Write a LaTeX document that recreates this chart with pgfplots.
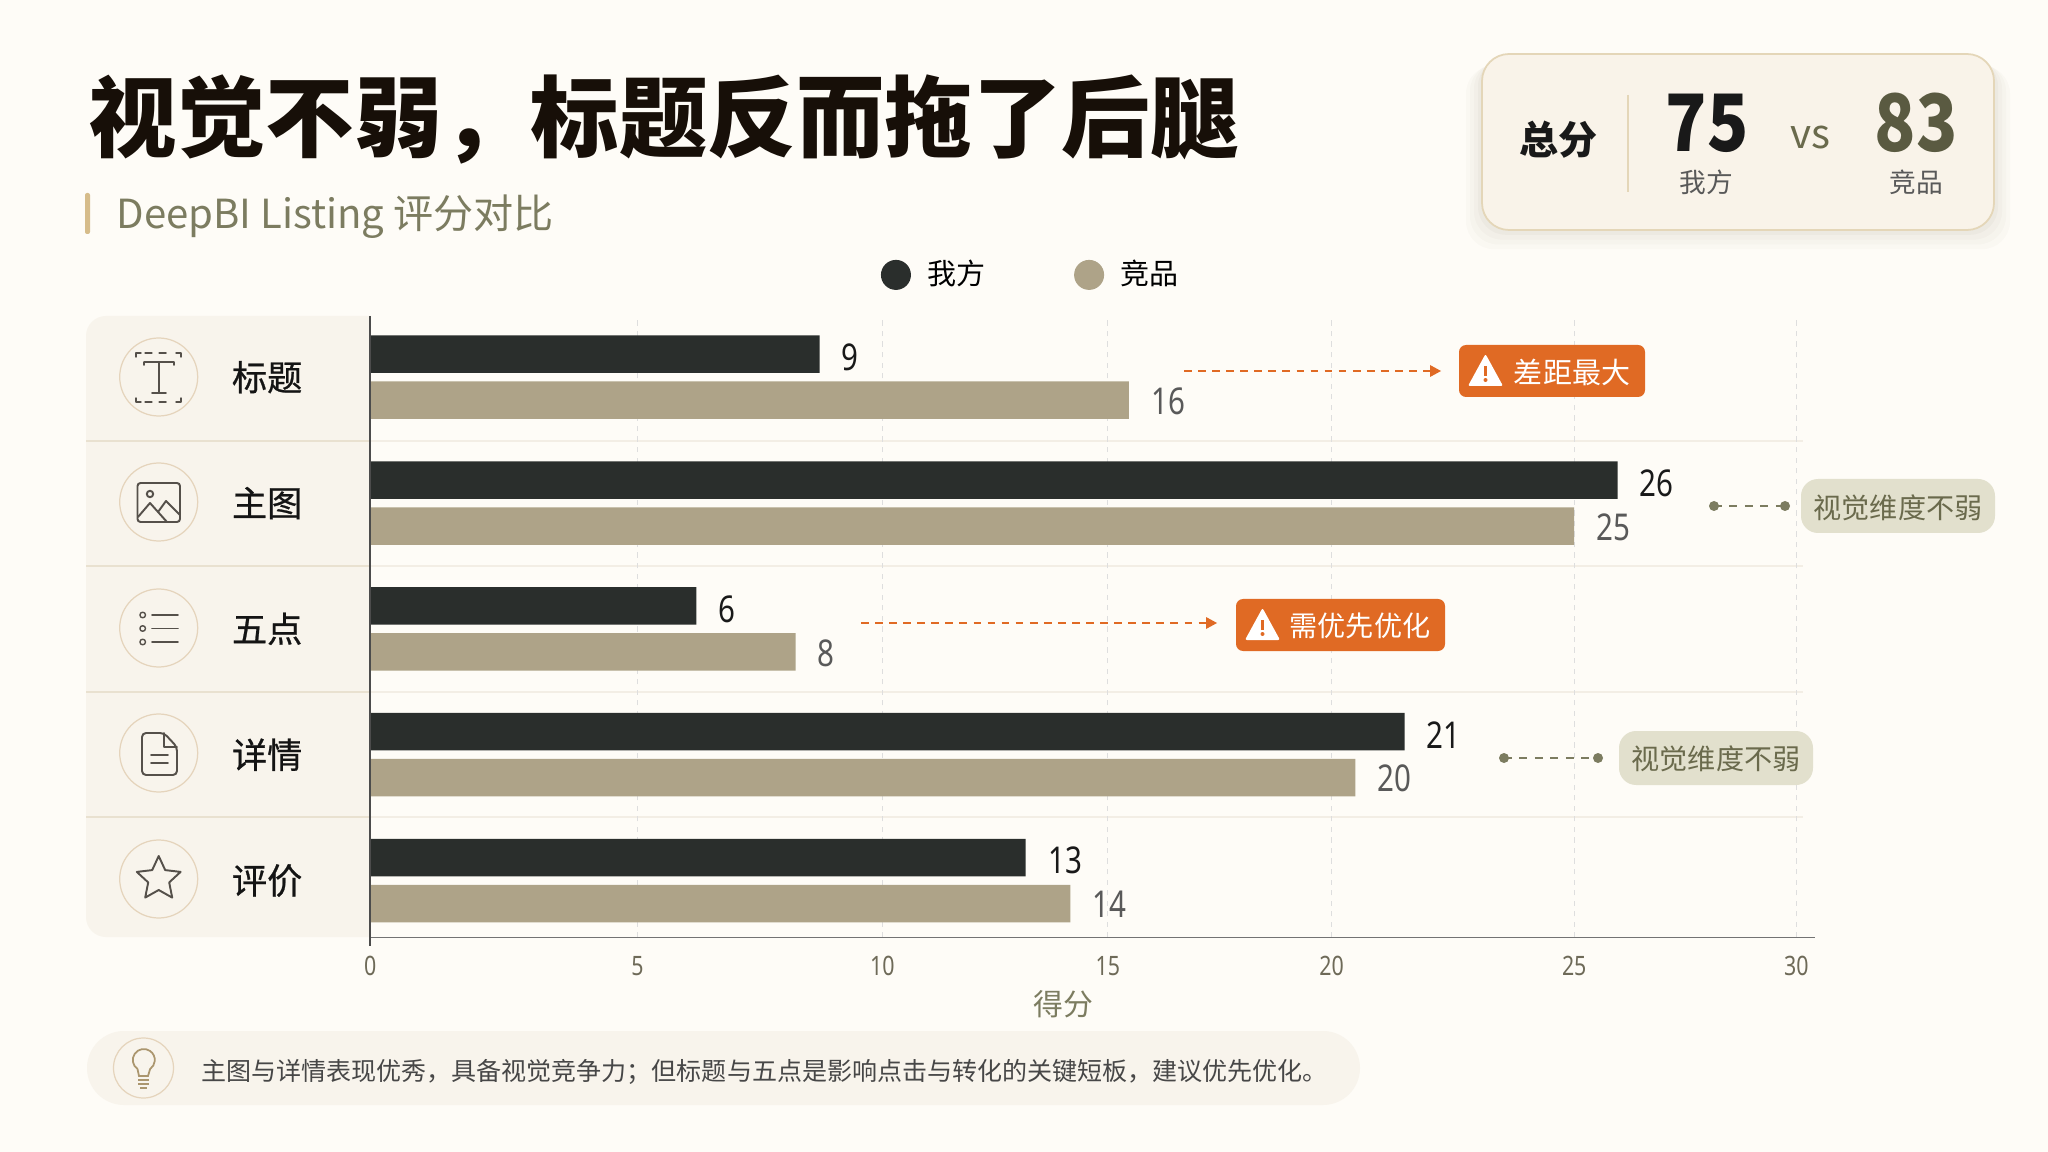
\documentclass[border=0pt]{standalone}
\usepackage{fontspec}
\usepackage{pgfplots}
\usepackage{pgfplotstable}
\pgfplotsset{compat=1.18}
\usetikzlibrary{arrows.meta}
\setmainfont{Noto Sans CJK SC}
\newfontfamily\numf[FakeStretch=0.8]{Noto Sans}
\newfontfamily\numb[FakeStretch=0.86]{Noto Sans CJK SC}
\newfontfamily\midf[FakeBold=0.7]{Noto Sans CJK SC}
\newcommand\fs[1]{\fontsize{#1pt}{#1pt}\selectfont}
\definecolor{bgc}{HTML}{FEFCF7}
\definecolor{cDark}{HTML}{2A2E2C}
\definecolor{cTan}{HTML}{AEA388}
\definecolor{panel}{HTML}{F8F4EC}
\definecolor{panelln}{HTML}{E9E1D0}
\definecolor{ring}{HTML}{E5D4BC}
\definecolor{icon}{HTML}{55504A}
\definecolor{olive}{HTML}{7C7C60}
\definecolor{oliveD}{HTML}{6A6A4C}
\definecolor{orng}{HTML}{E06A24}
\definecolor{pill}{HTML}{E2E0CD}
\definecolor{card}{HTML}{F9F3E9}
\definecolor{cardln}{HTML}{E4D6B8}
\definecolor{accent}{HTML}{D6BC8A}
\definecolor{tick}{HTML}{6E6A58}
% scores of each listing dimension (row 4 is the top row)
\pgfplotstableread{
row ours rival
4   9    16
3   26   25
2   6    8
1   21   20
0   13   14
}\scores
\begin{document}
\begin{tikzpicture}[x=0.01cm,y=-0.01cm]
\path[use as bounding box] (0,0) rectangle (2048,1152);
\fill[bgc] (0,0) rectangle (2048,1152);
% title block
\node[anchor=west,inner sep=0pt,text=black!88!brown] at (88,120) {\fs{25.15}\bfseries 视觉不弱，标题反而拖了后腿};
\fill[accent,rounded corners=0.02cm] (85,193) rectangle (90,234);
\node[anchor=west,inner sep=0pt,text=olive] at (116,217) {\fs{11.4}DeepBI Listing 评分对比};
% score card
\foreach \d/\o in {16/0.02,12/0.02,8/0.025,4/0.03}{
  \fill[black!60!brown,opacity=\o,rounded corners=0.28cm] (1482-\d,56+\d*0.6) rectangle (1994+\d,230+\d*1.2);}
\draw[fill=card,draw=cardln,line width=0.5pt,rounded corners=0.27cm] (1482,54) rectangle (1994,230);
\draw[cardln,line width=0.3pt] (1628,95) -- (1628,192);
\node[inner sep=0pt,text=black!90] at (1558.5,140) {\fs{11.1}\bfseries 总分};
\node[inner sep=0pt,text=black!90] at (1707,123) {\fs{22.5}\numb\bfseries 75};
\node[inner sep=0pt,text=oliveD!85!black] at (1916,123) {\fs{22.5}\numb\bfseries 83};
\node[inner sep=0pt,text=oliveD] at (1810,138) {\fs{11.5}vs};
\node[inner sep=0pt,text=black!65] at (1706,182) {\fs{7.6}我方};
\node[inner sep=0pt,text=black!65] at (1916,182) {\fs{7.6}竞品};
% category panel
\fill[panel,rounded corners=0.2cm] (86,316) rectangle (400,937);
\fill[bgc] (370,310) rectangle (410,945);
\foreach \y in {441,566,692,817}{
  \draw[panelln,line width=0.3pt] (86,\y) -- (370,\y);
  \draw[panelln!55,line width=0.3pt] (370,\y) -- (1803,\y);}
\foreach \y in {377,502,628,753,879}{
  \draw[ring,line width=0.35pt] (158.7,\y) circle (39);}
% icons
\begin{scope}[draw=icon,line width=0.55pt,line cap=round,line join=round]
\draw (144,362) -- (144,365) (144,362) -- (174,362) -- (174,365) (159,362) -- (159,393) (152,393) -- (166,393);
\draw[line width=0.4pt] (136,357) -- (136,353) -- (141,353) (176,353) -- (181,353) -- (181,357) (136,398) -- (136,402) -- (141,402) (176,402) -- (181,402) -- (181,398);
\draw[line width=0.35pt,dashed,dash pattern=on 2pt off 2pt] (145,353) -- (172,353) (145,402) -- (172,402);
\draw[rounded corners=0.03cm] (137.5,483) rectangle (180,522);
\draw (150,494) circle (3.2);
\draw (138,517) -- (150,503) -- (167,522) (158,512) -- (166,501) -- (180,515);
\foreach \y in {615,628.5,642}{\draw[line width=0.4pt] (142.7,\y) circle (2.8); \draw (152,\y) -- (178,\y);}
\draw[rounded corners=0.04cm] (142,775) -- (142,733) -- (164,733) -- (177,747) -- (177,775) -- cycle;
\draw (164,733) -- (164,747) -- (177,747);
\draw (151,755) -- (168,755) (151,763) -- (168,763);
\draw (158.7,856) -- (165.2,870.1) -- (180.6,871.9) -- (169.2,882.4) -- (172.2,897.6) -- (158.7,890) -- (145.2,897.6) -- (148.2,882.4) -- (136.8,871.9) -- (152.2,870.1) -- cycle;
\end{scope}
% the reference's bars and ticks do not follow a uniform scale: the mapping below
% carries each score to the position at which the reference draws its bar
\begin{axis}[
  at={(3.70cm,-9.37cm)},anchor=south west,scale only axis,
  width=14.44cm,height=6.21cm,
  xmin=0,xmax=30.42,ymin=-0.453,ymax=4.485,
  x coord trafo/.code={\pgfmathparse{#1<=6?#1*54.33:(#1<=8?326+(#1-6)*49.5:(#1<=9?425+(#1-8)*24:(#1<=13?449+(#1-9)*51.5:(#1<=14?655+(#1-13)*44.6:(#1<=16?699.6+(#1-14)*29.2:(#1<=20?758+(#1-16)*56.6:(#1<=21?984.4+(#1-20)*49.1:(#1<=25?1033.5+(#1-21)*42.4:(#1<=26?1203+(#1-25)*43.4:1246.4+(#1-26)*44.65)))))))))}},
  axis lines=left,axis line style={-,draw=black!55,line width=0.35pt},
  xtick={0,4.914,10.22,15.28,19.58,25,30},xticklabels={0,5,10,15,20,25,30},
  ytick={0,1,2,3,4},yticklabels={评价,详情,五点,主图,标题},
  major tick length=0pt,
  xmajorgrids,grid style={draw=black!13,line width=0.25pt,dash pattern=on 1.5pt off 1.5pt},
  x tick label style={font=\fs{7.6}\numf,text=tick,yshift=-0.06cm},
  y tick label style={font=\fs{10}\midf,text=black!92,anchor=center,xshift=-1.03cm},
  xlabel={得分},xlabel style={font=\fs{8.5},text=olive,at={(axis description cs:0.48,0)},anchor=center,yshift=-0.67cm},
  legend columns=2,
  legend style={at={(axis description cs:0.353,1.03)},anchor=south west,draw=none,fill=none,font=\fs{8.25},inner sep=0pt,
    /tikz/every even column/.append style={column sep=0.82cm}},
  nodes near coords,point meta=explicit symbolic,
  clip=false,
]
\addplot[xbar,bar width=0.375cm,bar shift=0.23cm,fill=cDark,draw=none,
  legend image code/.code={\fill[cDark] (0cm,0cm) circle (0.15cm);\path (0.24cm,0cm);},
  every node near coord/.append style={font=\fs{10.5}\numf,text=black!90,anchor=west,xshift=0.10cm,yshift=0.2cm}]
  table[x=ours,y=row,meta=ours]{\scores};
\addlegendentry{我方}
\addplot[xbar,bar width=0.375cm,bar shift=-0.23cm,fill=cTan,draw=none,
  legend image code/.code={\fill[cTan] (0cm,0cm) circle (0.15cm);\path (0.24cm,0cm);},
  every node near coord/.append style={font=\fs{10.5}\numf,text=black!65,anchor=west,xshift=0.10cm,yshift=-0.24cm}]
  table[x=rival,y=row,meta=rival]{\scores};
\addlegendentry{竞品}
\end{axis}
\draw[black!70,line width=0.35pt] (370,316) -- (370,946);
% callouts
\draw[orng,line width=0.45pt,dash pattern=on 2.2pt off 1.8pt] (1184,371) -- (1430,371);
\fill[orng] (1430,365) -- (1441,371) -- (1430,377) -- cycle;
\fill[orng,rounded corners=0.07cm] (1459,345) rectangle (1645,397);
\fill[white,rounded corners=0.02cm] (1485.5,354) -- (1503,386) -- (1468,386) -- cycle;
\fill[orng] (1484,366) rectangle (1487,376);\fill[orng] (1485.5,380) circle (2);
\node[inner sep=0pt,text=white] at (1572,372) {\fs{8.25}差距最大};
\draw[orng,line width=0.45pt,dash pattern=on 2.2pt off 1.8pt] (861,623) -- (1206,623);
\fill[orng] (1206,617) -- (1217,623) -- (1206,629) -- cycle;
\fill[orng,rounded corners=0.07cm] (1236,599) rectangle (1445,651);
\fill[white,rounded corners=0.02cm] (1262.5,608) -- (1280,640) -- (1245,640) -- cycle;
\fill[orng] (1261,620) rectangle (1264,630);\fill[orng] (1262.5,634) circle (2);
\node[inner sep=0pt,text=white] at (1360,626) {\fs{8}需优先优化};
\draw[olive,line width=0.4pt,dash pattern=on 2.2pt off 2.2pt] (1714,506) -- (1785,506);
\fill[olive] (1714,506) circle (5) (1785,506) circle (5);
\fill[pill,rounded corners=0.17cm] (1801,479) rectangle (1995,533);
\node[inner sep=0pt,text=oliveD] at (1898,508) {\fs{8}视觉维度不弱};
\draw[olive,line width=0.4pt,dash pattern=on 2.2pt off 2.2pt] (1504,758) -- (1598,758);
\fill[olive] (1504,758) circle (5) (1598,758) circle (5);
\fill[pill,rounded corners=0.17cm] (1619,731) rectangle (1813,785);
\node[inner sep=0pt,text=oliveD] at (1716,759) {\fs{8}视觉维度不弱};
% takeaway
\fill[panel,rounded corners=0.37cm] (87,1031) rectangle (1360,1105);
\draw[ring,line width=0.35pt] (143.5,1068) circle (30);
\draw[accent!80!black,line width=0.5pt] (137.5,1069) arc[start angle=125,end angle=415,radius=11] -- (148,1076) -- (139,1076) -- cycle;
\draw[accent!80!black,line width=0.6pt] (138,1080) -- (149,1080) (138,1084) -- (149,1084) (140,1088) -- (147,1088);
\node[anchor=west,inner sep=0pt,text=black!72] at (200.5,1072) {\fs{7.12}主图与详情表现优秀，具备视觉竞争力；但标题与五点是影响点击与转化的关键短板，建议优先优化。};
\end{tikzpicture}
\end{document}
